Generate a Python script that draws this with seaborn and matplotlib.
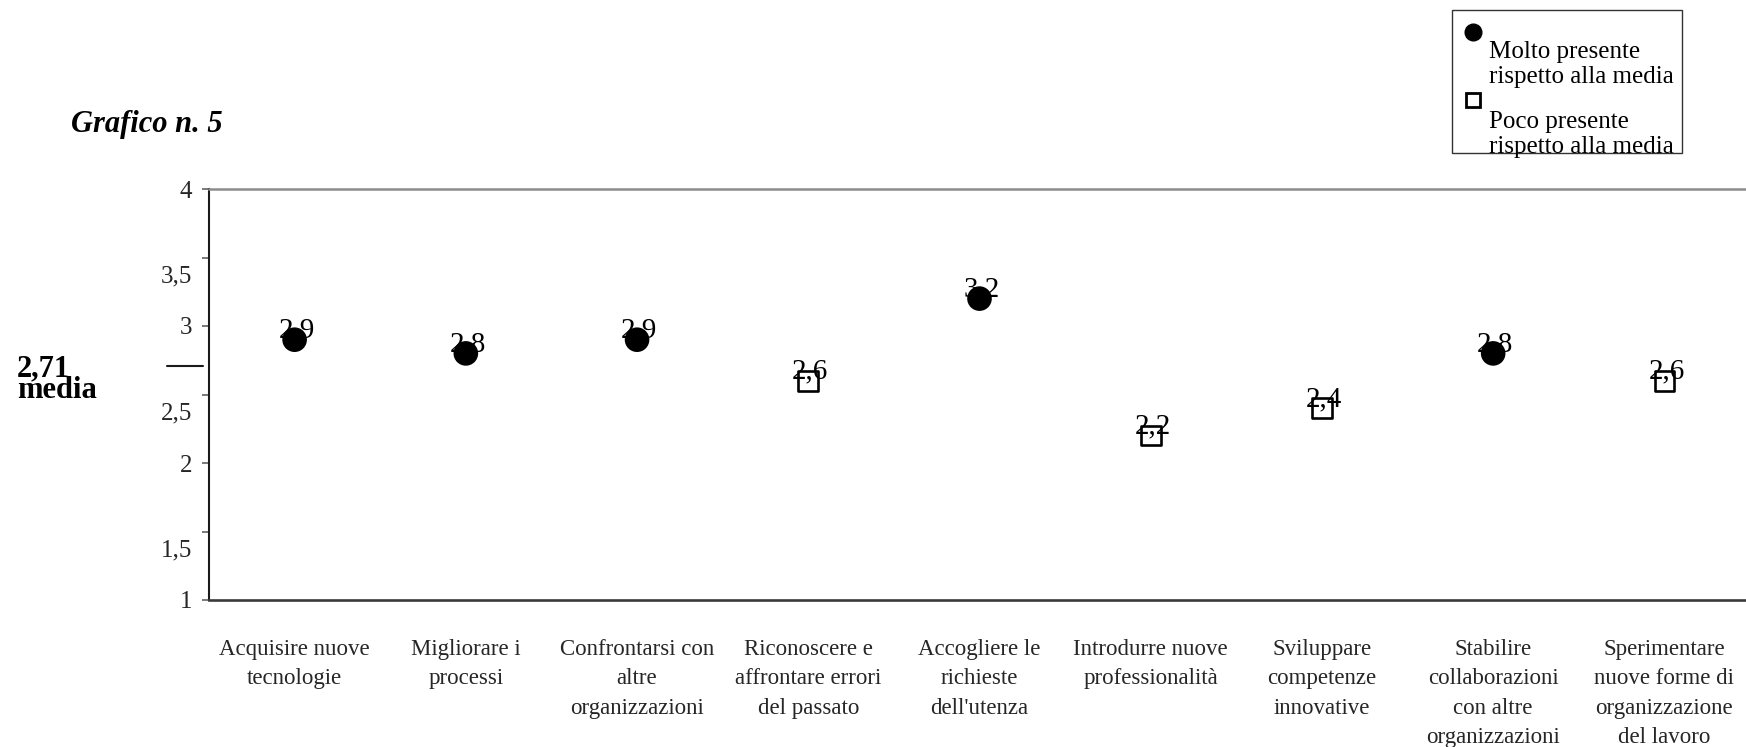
import matplotlib
matplotlib.use("Agg")
import matplotlib.pyplot as plt
from matplotlib.transforms import ScaledTranslation, blended_transform_factory
from matplotlib.patches import Rectangle
from matplotlib.lines import Line2D
import seaborn as sns
import pandas as pd

# --- data -------------------------------------------------------------
categorie = [
    "Acquisire nuove\ntecnologie",
    "Migliorare i\nprocessi",
    "Confrontarsi con\naltre\norganizzazioni",
    "Riconoscere e\naffrontare errori\ndel passato",
    "Accogliere le\nrichieste\ndell'utenza",
    "Introdurre nuove\nprofessionalità",
    "Sviluppare\ncompetenze\ninnovative",
    "Stabilire\ncollaborazioni\ncon altre\norganizzazioni",
    "Sperimentare\nnuove forme di\norganizzazione\ndel lavoro",
]
valori = [2.9, 2.8, 2.9, 2.6, 3.2, 2.2, 2.4, 2.8, 2.6]
media = 2.71
y_ticks = [1, 1.5, 2, 2.5, 3, 3.5, 4]
y_tick_labels = ["1", "1,5", "2", "2,5", "3", "3,5", "4"]
legenda_molto = ["Molto presente", "rispetto alla media"]
legenda_poco = ["Poco presente", "rispetto alla media"]
titolo = "Grafico n. 5"

def virgola(v, fmt="{:.1f}"):
    return fmt.format(v).replace(".", ",")

df = pd.DataFrame({"categoria": categorie, "valore": valori})
df["posizione"] = ["Molto" if v > media else "Poco" for v in valori]

# --- style ------------------------------------------------------------
sns.set_theme(style="white")
FONT = ["Liberation Serif", "DejaVu Serif"]
plt.rcParams["font.family"] = FONT
plt.rcParams["text.color"] = "black"

W, H, DPI = 1746, 747, 100
fig = plt.figure(figsize=(W / DPI, H / DPI), dpi=DPI)
ax = fig.add_axes([209 / W, 1 - 600 / H, 1541 / W, 411 / H])

def px(x, y):
    """pixel position (top-left origin) -> figure fraction"""
    return x / W, 1 - y / H

# --- marks ------------------------------------------------------------
sns.scatterplot(data=df, x="categoria", y="valore",
                hue="posizione", style="posizione", size="posizione",
                hue_order=["Molto", "Poco"],
                palette={"Molto": "black", "Poco": "white"},
                markers={"Molto": "o", "Poco": "s"},
                sizes={"Molto": 250, "Poco": 200},
                edgecolor="black", linewidth=1.9,
                ax=ax, zorder=3, legend=False)

for i, v in enumerate(valori):
    ax.annotate(virgola(v), (i, v), xytext=(1.5, 1.5), textcoords="offset points",
                ha="center", va="baseline", fontsize=21, zorder=4)

# --- axes -------------------------------------------------------------
ax.set_xlim(-0.5, len(categorie) - 0.5)
ax.set_ylim(1, 4)
ax.set_xticks(range(len(categorie)))
ax.set_xticklabels(categorie, fontsize=16.5, linespacing=1.52)
ax.set_yticks(y_ticks)
ax.set_yticklabels(y_tick_labels, fontsize=18)
ax.set_xlabel("")
ax.set_ylabel("")
ax.tick_params(axis="x", length=0, pad=28)
ax.tick_params(axis="y", left=True, length=5, width=1.1, color="#555555",
               pad=7, direction="out")

# labels with a decimal comma sit a little lower
for lab in ax.get_yticklabels():
    if "," in lab.get_text():
        lab.set_transform(lab.get_transform()
                          + ScaledTranslation(0, -12 / 72, fig.dpi_scale_trans))

for side in ax.spines:
    ax.spines[side].set_visible(True)
ax.spines["right"].set_visible(False)
ax.spines["top"].set_color("#8c8c8c")
ax.spines["top"].set_linewidth(1.8)
ax.spines["left"].set_color("#1a1a1a")
ax.spines["left"].set_linewidth(1.5)
ax.spines["bottom"].set_color("#3a3a3a")
ax.spines["bottom"].set_linewidth(1.9)

# mean marker outside the left spine
trans = blended_transform_factory(ax.transAxes, ax.transData)
ax.plot([-0.027, -0.004], [media, media], color="#1a1a1a", lw=1.5,
        transform=trans, clip_on=False)
fig.text(*px(17, 376), virgola(media, "{:.2f}"), fontsize=22,
         fontweight="bold", va="baseline", ha="left")
fig.text(*px(17, 398), "media", fontsize=22, fontweight="bold",
         va="baseline", ha="left")

# --- title ------------------------------------------------------------
fig.text(*px(71, 132), titolo, fontsize=22, fontweight="bold",
         fontstyle="italic", va="baseline", ha="left")

# --- legend box -------------------------------------------------------
x0, y0 = px(1452, 153)
x1, y1 = px(1682, 10)
fig.patches.append(Rectangle((x0, y0), x1 - x0, y1 - y0, transform=fig.transFigure,
                             fill=False, edgecolor="#333333", linewidth=1.0))
fig.lines.append(Line2D([px(1473, 32)[0]], [px(1473, 32)[1]], marker="o",
                        markersize=12, color="black", transform=fig.transFigure))
fig.lines.append(Line2D([px(1473, 100)[0]], [px(1473, 100)[1]], marker="s",
                        markersize=10.5, markerfacecolor="white",
                        markeredgecolor="black", markeredgewidth=2.0,
                        transform=fig.transFigure))
for testo, base in zip(legenda_molto + legenda_poco, [58, 83, 128, 153]):
    fig.text(*px(1489, base), testo, fontsize=18, va="baseline", ha="left")

fig.savefig("out.png", dpi=DPI)
